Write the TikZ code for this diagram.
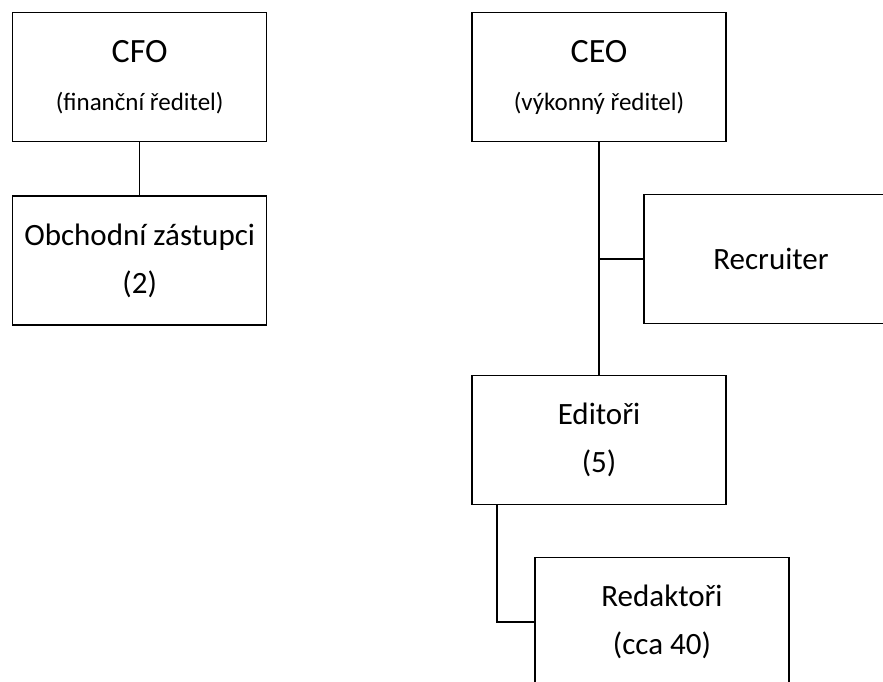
\documentclass[tikz,border=0pt]{standalone}
\usepackage{fontspec}
\setmainfont{Carlito}
\usepackage{tikz}
\usetikzlibrary{positioning}

\tikzset{
  rolebox/.style={draw, line width=1.3pt, minimum width=254pt, minimum height=129pt,
    inner sep=0pt, align=center, font=\fontsize{31}{48}\selectfont},
  link/.style={draw, line width=1.3pt}
}
\newcommand{\headline}[1]{{\fontsize{34}{48}\selectfont #1}}
\newcommand{\subline}[1]{{\fontsize{25}{48}\selectfont #1}}

\begin{document}
\begin{tikzpicture}[x=1pt, y=-1pt]
            \clip (0,0) rectangle (883,682);
            \fill[white] (0,0) rectangle (883,682);

            \node (cfo) [rolebox] at (139.7,77.3) {\headline{CFO}\\\subline{(finanční ředitel)}};
            \node (sales) [rolebox, below=53pt of cfo] {Obchodní zástupci\\(2)};
            \node (ceo) [rolebox] at (599,77.3) {\headline{CEO}\\\subline{(výkonný ředitel)}};
            \node (recruiter) [rolebox] at (771,259) {Recruiter};
            \node (editors) [rolebox] at (599,440) {Editoři\\(5)};
            \node (writers) [rolebox] at (662,622) {Redaktoři\\(cca 40)};

            \path[link] (cfo) -- (sales);
            \path[link] (ceo) -- (editors);
            \path[link] (ceo.south |- recruiter.west) -- (recruiter.west);
            \path[link] ([xshift=-102pt]editors.south) |- (writers.west);
        \end{tikzpicture}
\end{document}
